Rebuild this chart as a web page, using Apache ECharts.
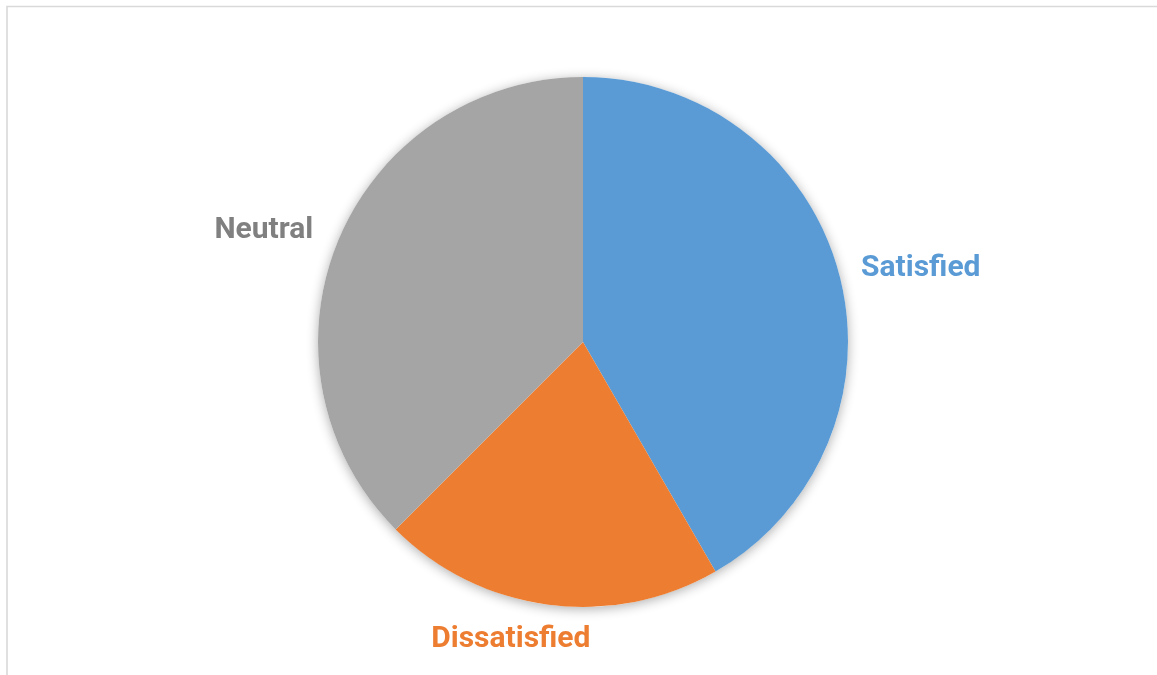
<!DOCTYPE html>
<html>
<head>
<meta charset="utf-8">
<script src="https://cdn.jsdelivr.net/npm/echarts@6/dist/echarts.min.js"></script>
<style>
html,body{margin:0;padding:0;background:#fff;}
#chart{width:1157px;height:675px;}
</style>
</head>
<body>
<div id="chart"></div>
<script>
const categories = ['Satisfied', 'Dissatisfied', 'Neutral'];
const values = [10, 5, 9];

const sliceColors = ['#5B9BD5', '#ED7D31', '#A5A5A5'];
const labelColors = ['#5B9BD5', '#ED7D31', '#808080'];
const labelGap2 = [43, 28, 37];
const labelNudgeY = [4, 0, 3];

const chart = echarts.init(document.getElementById('chart'), null, {renderer: 'canvas'});
const center = [583, 342];
const radius = 265;

chart.setOption({
  animation: false,
  backgroundColor: '#ffffff',
  graphic: [{
    type: 'rect',
    shape: {x: 7, y: 6.5, width: 1300, height: 800},
    style: {fill: 'none', stroke: '#d9d9d9', lineWidth: 1.6},
    silent: true,
    z: -10
  }],
  series: [
    {
      type: 'pie',
      silent: true,
      center: center,
      radius: radius,
      z: 1,
      label: {show: false},
      labelLine: {show: false},
      itemStyle: {
        color: '#ffffff',
        shadowBlur: 12,
        shadowOffsetY: 2,
        shadowColor: 'rgba(0,0,0,0.32)'
      },
      data: [{value: 1, name: ''}]
    },
    {
      type: 'pie',
      center: center,
      radius: radius,
      startAngle: 90,
      clockwise: true,
      z: 2,
      avoidLabelOverlap: false,
      label: {
        show: true,
        position: 'outside',
        fontFamily: 'Roboto, Liberation Sans, Arial, sans-serif',
        fontWeight: 'bold',
        fontSize: 30,
        distanceToLabelLine: 5
      },
      labelLine: {show: false, length: 35, length2: 36},
      labelLayout: function (p) { return {align: 'center', dy: labelNudgeY[p.dataIndex] || 0}; },
      itemStyle: {borderWidth: 0},
      data: categories.map((c, i) => ({
        name: c,
        value: values[i],
        itemStyle: {color: sliceColors[i]},
        label: {color: labelColors[i]},
        labelLine: {length2: labelGap2[i]}
      }))
    }
  ]
});
</script>
</body>
</html>
